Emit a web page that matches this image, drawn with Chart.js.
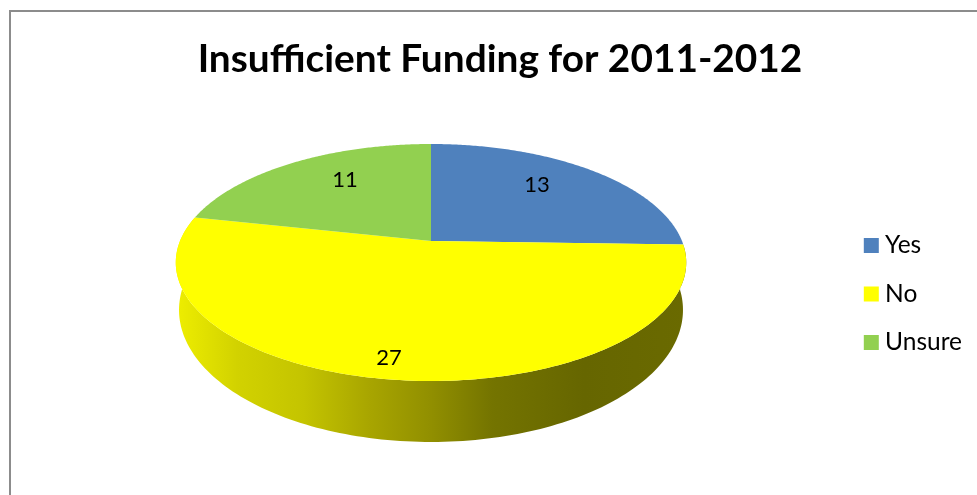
<!DOCTYPE html>
<html>
<head>
<meta charset="utf-8">
<title>Insufficient Funding for 2011-2012</title>
<script src="https://cdn.jsdelivr.net/npm/chart.js@4"></script>
<style>
    html, body { margin: 0; padding: 0; background: #fff; overflow: hidden; width: 977px; height: 495px; }
    canvas { display: block; }
</style>
</head>
<body>
<canvas id="pieChart" width="1000" height="562"></canvas>
<script>
const categories = ['Yes', 'No', 'Unsure'];
const answers = [13, 27, 11];
const sliceColors = ['#4f81bd', '#ffff00', '#92d050'];
const chartTitle = 'Insufficient Funding for 2011-2012';

// tilted disc: x = cx + a*u/(1+p*v), y = (y0 + b*v)/(1+p*v)
const topDisc = { cx: 431, a: 251, y0: 241, b: 70.9, p: -0.1814 };
const bottomDisc = { cx: 431, a: 247.8, y0: 286, b: 75.8, p: -0.1814 };
const labelSpots = [[537, 185], [389, 358], [345, 180]];
const sideStops = [
    [0, '#eeee00'], [0.12, '#d2d200'], [0.25, '#c4c400'], [0.38, '#a8a500'],
    [0.5, '#918f00'], [0.62, '#747400'], [0.8, '#666600'], [1, '#6a6a00']
];

function project(disc, angle) {
    const u = Math.sin(angle), v = -Math.cos(angle);
    const w = 1 + disc.p * v;
    return [disc.cx + disc.a * u / w, (disc.y0 + disc.b * v) / w];
}

function arcPoints(disc, arc) {
    const pts = [];
    const start = arc.startAngle + Math.PI / 2;
    const end = arc.endAngle + Math.PI / 2;
    for (let i = 0; i <= 160; i++) {
        pts.push(project(disc, start + (end - start) * i / 160));
    }
    return pts;
}

const tiltedPie = {
    id: 'tiltedPie',
    beforeDraw(chart) {
        const ctx = chart.ctx;
        ctx.save();
        ctx.fillStyle = '#ffffff';
        ctx.fillRect(0, 0, chart.width, chart.height);
        ctx.strokeStyle = '#8c8c8c';
        ctx.lineWidth = 2;
        ctx.strokeRect(10, 11, 1200, 1200);
        ctx.restore();
    },
    beforeDatasetDraw(chart, args) {
        const ctx = chart.ctx;
        const arcs = args.meta.data;
        // side wall, only the largest slice faces the viewer
        const front = arcs[1];
        const grad = ctx.createLinearGradient(176, 0, 686, 0);
        sideStops.forEach(s => grad.addColorStop(s[0], s[1]));
        ctx.save();
        ctx.beginPath();
        arcPoints(topDisc, front).concat(arcPoints(bottomDisc, front).reverse())
            .forEach(p => ctx.lineTo(p[0], p[1]));
        ctx.closePath();
        ctx.fillStyle = grad;
        ctx.fill();
        // top face
        arcs.forEach((arc, i) => {
            ctx.beginPath();
            ctx.moveTo(topDisc.cx, topDisc.y0);
            arcPoints(topDisc, arc).forEach(p => ctx.lineTo(p[0], p[1]));
            ctx.closePath();
            ctx.fillStyle = sliceColors[i];
            ctx.fill();
        });
        // value labels
        ctx.fillStyle = '#000';
        ctx.font = '22px Lato';
        ctx.textAlign = 'center';
        ctx.textBaseline = 'middle';
        answers.forEach((val, i) => ctx.fillText(String(val), labelSpots[i][0], labelSpots[i][1]));
        ctx.restore();
        return false;
    }
};

new Chart(document.getElementById('pieChart').getContext('2d'), {
    type: 'pie',
    data: {
        labels: categories,
        datasets: [{
            data: answers,
            backgroundColor: sliceColors,
            borderWidth: 0
        }]
    },
    options: {
        responsive: false,
        animation: false,
        events: [],
        layout: {
            padding: { top: 26, right: 28, bottom: 0, left: 28 }
        },
        plugins: {
            title: {
                display: true,
                text: chartTitle,
                color: '#000',
                font: { family: 'Lato', size: 38.8, weight: 'bold' }
            },
            legend: {
                position: 'right',
                labels: {
                    color: '#000',
                    font: { family: 'Lato', size: 24.5 },
                    usePointStyle: true,
                    pointStyle: 'rect',
                    boxWidth: 3,
                    boxHeight: 15,
                    padding: 24
                }
            },
            tooltip: { enabled: false }
        }
    },
    plugins: [tiltedPie]
});
</script>
</body>
</html>
